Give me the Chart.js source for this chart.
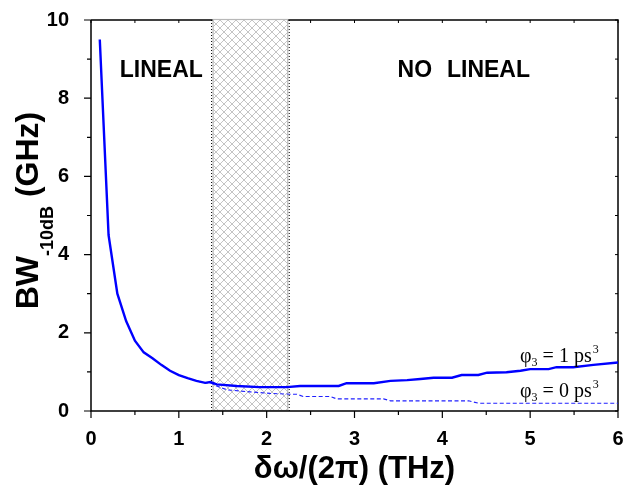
<!DOCTYPE html>
<html><head><meta charset="utf-8">
<script src="https://cdn.jsdelivr.net/npm/chart.js@4/dist/chart.umd.min.js"></script>
<style>html,body{margin:0;padding:0;background:#fff;}#wrap{width:625px;height:499px;}</style>
</head><body><div id="wrap"><canvas id="c" width="625" height="499"></canvas></div>
<script>
// ---- data ----
const solidX = [0.1,0.2,0.3,0.4,0.5,0.6,0.7,0.8,0.9,1.0,1.1,1.2,1.3,1.36,1.43,1.66,1.92,2.23,2.38,2.82,2.91,3.22,3.41,3.60,3.75,3.90,4.11,4.22,4.41,4.51,4.73,4.89,5.0,5.21,5.30,5.49,5.72,6.0];
const solidY = [9.5,4.5,3.0,2.3,1.8,1.5,1.35,1.18,1.03,0.92,0.84,0.77,0.72,0.74,0.68,0.64,0.61,0.61,0.64,0.64,0.71,0.71,0.77,0.79,0.82,0.85,0.85,0.92,0.92,0.98,0.99,1.03,1.07,1.07,1.12,1.12,1.18,1.24];
const dashedX = [1.0,1.1,1.2,1.3,1.36,1.43,1.55,1.81,2.04,2.27,2.34,2.42,2.72,2.80,3.33,3.41,4.30,4.41,6.0];
const dashedY = [0.92,0.84,0.77,0.72,0.72,0.64,0.54,0.49,0.45,0.43,0.43,0.37,0.37,0.31,0.31,0.26,0.26,0.20,0.20];
const xTicks = [0,1,2,3,4,5,6];
const yTicks = [0,2,4,6,8,10];
const hatchRange = [1.39, 2.24];
const regionLabels = ['LINEAL', ['NO', 'LINEAL']];
const seriesLabels = [['φ','3',' = 1 ps','3'],['φ','3',' = 0 ps','3']];
const xTitle = 'δω/(2π) (THz)';
const yTitle = ['BW','-10dB',' (GHz)'];

const SANS = '"Liberation Sans", Arial, sans-serif';
const SERIF = '"Liberation Serif", "Times New Roman", serif';

function hatchPattern(ctx){
  const pc = document.createElement('canvas'); pc.width = 8; pc.height = 8;
  const p = pc.getContext('2d');
  p.fillStyle = '#fff'; p.fillRect(0,0,8,8);
  p.strokeStyle = '#c4c4c4'; p.lineWidth = 1;
  p.beginPath(); p.moveTo(0,0); p.lineTo(8,8); p.moveTo(8,0); p.lineTo(0,8); p.stroke();
  return ctx.createPattern(pc, 'repeat');
}

const decor = {
  id: 'decor',
  beforeDatasetsDraw(chart){
    const {ctx, chartArea: a, scales: {x, y}} = chart;
    ctx.save();
    ctx.strokeStyle = '#000'; ctx.lineWidth = 1.5;
    ctx.beginPath();
    ctx.moveTo(a.left, a.top); ctx.lineTo(a.right, a.top); ctx.lineTo(a.right, a.bottom);
    ctx.stroke();
    ctx.lineWidth = 1;
    ctx.beginPath();
    for (let v = 0; v <= 6.001; v += 0.5) { const px = x.getPixelForValue(v); ctx.moveTo(px, a.top); ctx.lineTo(px, a.top + 3); }
    for (let v = 0; v <= 10.001; v += 1) { const py = y.getPixelForValue(v); ctx.moveTo(a.right, py); ctx.lineTo(a.right - 3, py); }
    ctx.stroke();
    const x1 = x.getPixelForValue(hatchRange[0]), x2 = x.getPixelForValue(hatchRange[1]);
    ctx.fillStyle = hatchPattern(ctx);
    ctx.fillRect(x1, a.top - 1, x2 - x1, a.bottom - a.top + 1);
    ctx.strokeStyle = '#b8b8b8'; ctx.lineWidth = 1.2;
    ctx.strokeRect(x1, a.top - 0.5, x2 - x1, a.bottom - a.top);
    ctx.strokeStyle = '#000'; ctx.lineWidth = 1; ctx.setLineDash([1,2]);
    ctx.beginPath();
    ctx.moveTo(x1 - 1.5, a.top); ctx.lineTo(x1 - 1.5, a.bottom);
    ctx.moveTo(x2 + 1.5, a.top); ctx.lineTo(x2 + 1.5, a.bottom);
    ctx.stroke();
    ctx.restore();
  },
  afterDatasetsDraw(chart){
    const {ctx, chartArea: a, scales: {x, y}} = chart;
    ctx.save();
    ctx.strokeStyle = '#000'; ctx.lineWidth = 1.5;
    ctx.beginPath();
    ctx.moveTo(a.left, a.top); ctx.lineTo(a.left, a.bottom); ctx.lineTo(a.right, a.bottom);
    ctx.stroke();
    ctx.lineWidth = 1.2;
    ctx.beginPath();
    for (let v = 0; v <= 6.001; v += 0.5) {
      const px = x.getPixelForValue(v); const major = Math.abs(v - Math.round(v)) < 1e-6;
      ctx.moveTo(px, a.bottom); ctx.lineTo(px, a.bottom + (major ? 7 : 4));
    }
    for (let v = 0; v <= 10.001; v += 1) {
      const py = y.getPixelForValue(v); const major = v % 2 === 0;
      ctx.moveTo(a.left, py); ctx.lineTo(a.left - (major ? 7 : 4), py);
    }
    ctx.stroke();

    ctx.fillStyle = '#000';
    ctx.font = 'bold 23px ' + SANS;
    ctx.textBaseline = 'middle';
    const ly = y.getPixelForValue(8.7);
    ctx.textAlign = 'center';
    ctx.fillText(regionLabels[0], x.getPixelForValue(0.8), ly);
    ctx.textAlign = 'left';
    ctx.fillText(regionLabels[1][0], x.getPixelForValue(3.49), ly);
    ctx.textAlign = 'right';
    ctx.fillText(regionLabels[1][1], x.getPixelForValue(4.998), ly);

    ctx.textAlign = 'left'; ctx.textBaseline = 'alphabetic';
    const drawPhi = (parts, xv, yv) => {
      let px = x.getPixelForValue(xv); const py = y.getPixelForValue(yv);
      ctx.font = '20px ' + SERIF; ctx.fillText(parts[0], px, py); px += ctx.measureText(parts[0]).width;
      ctx.font = '12px ' + SERIF; ctx.fillText(parts[1], px, py + 4); px += ctx.measureText(parts[1]).width;
      ctx.font = '20px ' + SERIF; ctx.fillText(parts[2], px, py); px += ctx.measureText(parts[2]).width;
      ctx.font = '12px ' + SERIF; ctx.fillText(parts[3], px + 1, py - 9);
    };
    drawPhi(seriesLabels[0], 4.885, 1.26);
    drawPhi(seriesLabels[1], 4.885, 0.37);

    const cy = (a.top + a.bottom) / 2 - 5;
    ctx.translate(38, cy);
    ctx.rotate(-Math.PI / 2);
    const fMain = 'bold 32px ' + SANS, fSub = 'bold 18px ' + SANS;
    ctx.font = fMain; const w0 = ctx.measureText(yTitle[0]).width; const w2 = ctx.measureText(yTitle[2]).width;
    ctx.font = fSub; const w1 = ctx.measureText(yTitle[1]).width;
    let tx = -(w0 + w1 + w2) / 2;
    ctx.font = fMain; ctx.fillText(yTitle[0], tx, 0); tx += w0;
    ctx.font = fSub; ctx.fillText(yTitle[1], tx, 15); tx += w1;
    ctx.font = fMain; ctx.fillText(yTitle[2], tx, 0);
    ctx.restore();
  }
};

new Chart(document.getElementById('c'), {
  type: 'line',
  data: {
    datasets: [
      { data: solidX.map((v, i) => ({x: v, y: solidY[i]})), borderColor: '#0000ff', borderWidth: 2.4, pointRadius: 0, tension: 0, fill: false },
      { data: dashedX.map((v, i) => ({x: v, y: dashedY[i]})), borderColor: '#2020ff', borderWidth: 1.1, borderDash: [4, 2.5], pointRadius: 0, tension: 0, fill: false }
    ]
  },
  plugins: [decor],
  options: {
    responsive: false, animation: false, devicePixelRatio: 1,
    layout: { padding: { top: 20, right: 7, left: 0, bottom: 0 } },
    plugins: { legend: { display: false }, tooltip: { enabled: false } },
    scales: {
      x: {
        type: 'linear', min: 0, max: 6,
        afterFit: s => { s.height = 88; s.paddingLeft = 0; s.paddingRight = 0; },
        afterBuildTicks: s => { s.ticks = xTicks.map(v => ({value: v})); },
        grid: { display: false }, border: { display: false },
        ticks: { color: '#000', font: { family: SANS, size: 20, weight: 'bold' }, padding: 8, maxRotation: 0, autoSkip: false },
        title: { display: true, text: xTitle, color: '#000', font: { family: SANS, size: 31, weight: 'bold' }, padding: { top: 0, bottom: 11 } }
      },
      y: {
        type: 'linear', min: 0, max: 10,
        afterFit: s => { s.width = 91; s.paddingTop = 0; s.paddingBottom = 0; },
        afterBuildTicks: s => { s.ticks = yTicks.map(v => ({value: v})); },
        grid: { display: false }, border: { display: false },
        ticks: { color: '#000', font: { family: SANS, size: 20, weight: 'bold' }, padding: 14 }
      }
    }
  }
});
</script></body></html>
